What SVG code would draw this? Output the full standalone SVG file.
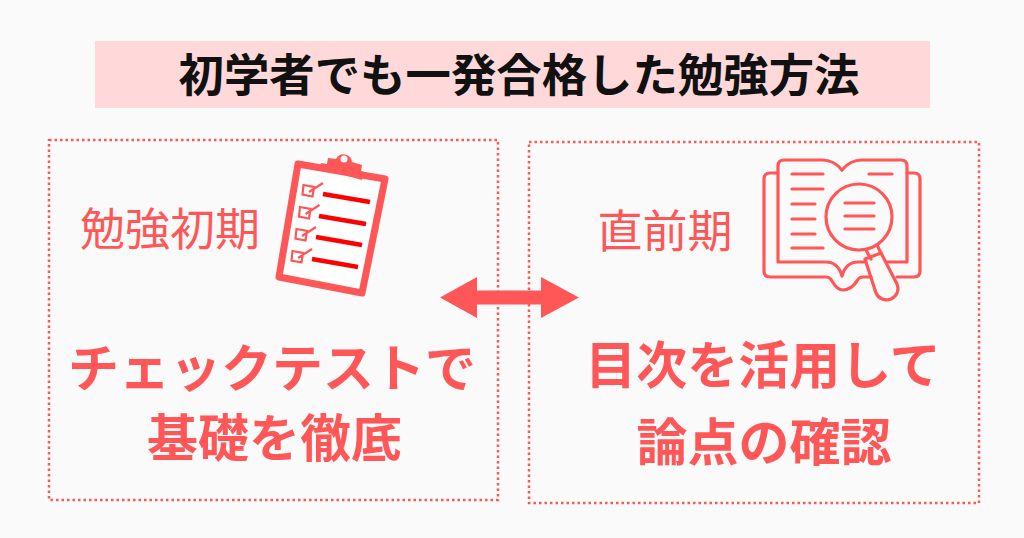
<svg xmlns="http://www.w3.org/2000/svg" width="1024" height="538" viewBox="0 0 1024 538">
<style>
text{font-family:"Noto Sans CJK JP","Noto Sans CJK SC",sans-serif;text-anchor:middle}
.box{fill:none;stroke:#ff5757;stroke-width:2.500;stroke-dasharray:2.500 3}
.lab{fill:#ff5757;font-size:45px;font-weight:400}
.big{fill:#ff5757;font-size:51px;font-weight:700}
.ln{fill:none;stroke:#ff5757;stroke-width:3.200;stroke-linecap:round;stroke-linejoin:round}
</style>
<rect width="1024" height="538" fill="#fafafa"/>
<g id="title"><rect x="95" y="41" width="835" height="67" fill="#ffd9d9"/>
<text x="519" y="92" font-size="45.400" font-weight="700" fill="#111">初学者でも一発合格した勉強方法</text></g>
<g id="left-node">
<rect class="box" x="49" y="140" width="449" height="360"/>
<text class="lab" x="170" y="246">勉強初期</text>
<text class="big" x="272" y="387">チェックテストで</text>
<text class="big" x="274.500" y="457">基礎を徹底</text>
<g id="clipboard">
<path d="M298 164 L385 179 L362 293 L279 277Z" fill="#fff" stroke="#ff5757" stroke-width="7" stroke-linejoin="round"/>
<path d="M319 168 L321 163 L327 164 L328 158 L336 159 A8.500 8.500 0 0 1 352 162 L362 165 L361 171 L364 172 L362 180Z" fill="#ff5757"/>
<circle cx="344" cy="159" r="3.500" fill="#fafafa"/>
<g fill="none" stroke="#ff0000" stroke-width="4.700"><path d="M323 194 L370 202"/><path d="M319 216 L366 224"/><path d="M316 237 L362 245"/><path d="M312 259 L358 267"/></g>
<g fill="none" stroke="#ff5757" stroke-width="2.200"><path d="M303.500 185 L314 187 L312.500 196.500 L302.500 194.500Z M309 192 L323 183"/><path d="M300 207 L310.500 209 L309 218.500 L299 216.500Z M305.500 214 L319.500 205"/><path d="M296.500 229 L307 231 L305.500 240.500 L295.500 238.500Z M302 236 L316 227"/><path d="M292.500 251 L303 253 L301.500 262.500 L291.500 260.500Z M298 258 L312 249"/></g>
</g>
</g>
<g id="right-node">
<rect class="box" x="529" y="142" width="450" height="361"/>
<text class="lab" x="665" y="248">直前期</text>
<text class="big" x="763" y="384">目次を活用して</text>
<text class="big" x="764" y="461">論点の確認</text>
<g id="book" class="ln">
<path d="M778 173 L770 173 Q764 173 764 179 L764 271 Q764 277 770 277 L826 277 Q830 277 832 281 Q837 290 843 290 Q851 290 857 281 Q859 277 863 277 L871 277"/>
<path d="M907 173 L914 173 Q920 173 920 179 L920 271 Q920 277 914 277 L897 277"/>
<path d="M842 170 Q834 160 822 160 L784 160 Q778 160 778 166 L778 262 L826 262 Q838 262 842 276 Q846 262 858 262 L866 262"/>
<path d="M842 170 Q850 160 862 160 L901 160 Q907 160 907 166 L907 262 L886 262"/>
<path d="M792 174 L823 174M792 189 L823 189M792 204 L815 204M792 219 L815 219M792 234 L815 234M792 248 L823 248M869 174 L892 174"/>
<path d="M845 203 L874 203M845 216 L874 216M845 229 L874 229"/>
<circle cx="859" cy="217" r="33"/>
<path d="M866 250 L871 259 M877 245 L881 253"/>
<path d="M865 259 L881 253 L897 284 A11 11 0 0 1 876 293Z"/>
</g>
</g>
<g id="connectors">
<path d="M440 297.500 L477 277 L477 290.500 L541 290.500 L541 277 L579 297.500 L541 318 L541 304.500 L477 304.500 L477 318Z" fill="#ff5757"/>
</g>
</svg>
